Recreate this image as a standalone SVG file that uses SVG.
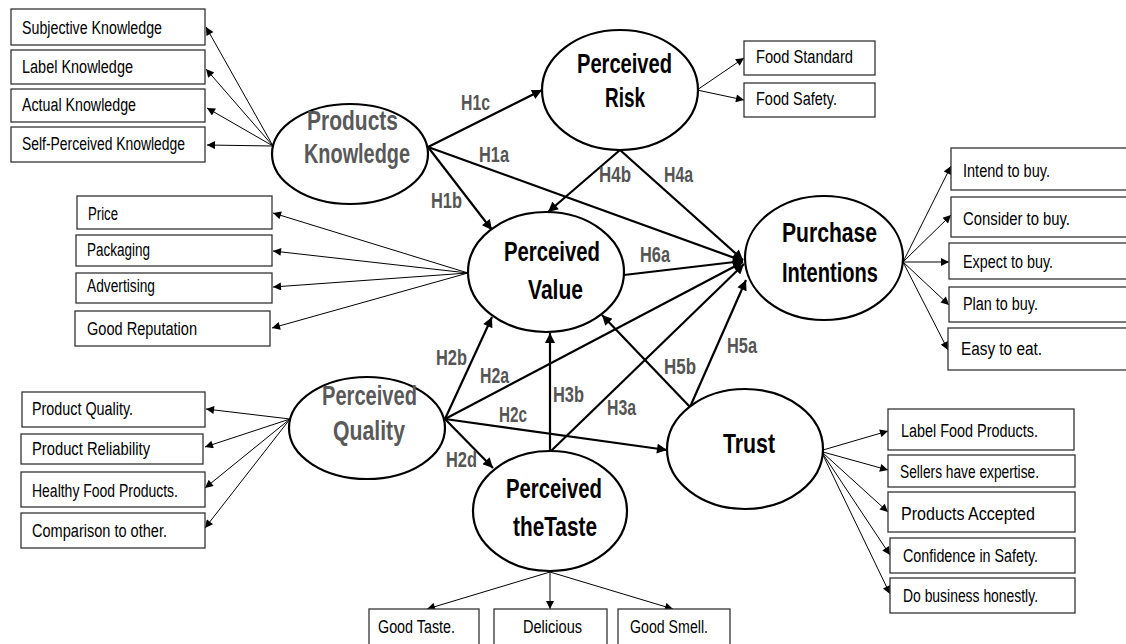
<svg xmlns="http://www.w3.org/2000/svg" width="1126" height="644" viewBox="0 0 1126 644">
<style>
.box{fill:#fff;stroke:#333;stroke-width:1.3}
.bt{font-family:"Liberation Sans",Arial,sans-serif;font-size:18px;fill:#000}
.ell{fill:#fff;stroke:#000;stroke-width:2.2}
.nl{font-family:"Liberation Sans",Arial,sans-serif;font-size:27px;font-weight:bold;fill:#000}
.gr{fill:#595959}
.hl{font-family:"Liberation Sans",Arial,sans-serif;font-size:22px;font-weight:bold;fill:#555}
.thin{stroke:#000;stroke-width:1;fill:none;marker-end:url(#as)}
.thick{stroke:#000;stroke-width:2.2;fill:none;marker-end:url(#al)}
</style>
<defs>
<marker id="as" viewBox="0 0 10 10" refX="10" refY="5" markerWidth="10" markerHeight="8" markerUnits="userSpaceOnUse" orient="auto"><path d="M0,0 L10,5 L0,10 z" fill="#000"/></marker>
<marker id="al" viewBox="0 0 10 10" refX="10" refY="5" markerWidth="12" markerHeight="10" markerUnits="userSpaceOnUse" orient="auto"><path d="M0,0 L10,5 L0,10 z" fill="#000"/></marker>
</defs>
<rect width="1126" height="644" fill="#fff"/>

<g id="connectors">
<!-- Products Knowledge indicators -->
<line class="thin" x1="273" y1="146" x2="206" y2="27"/>
<line class="thin" x1="273" y1="146" x2="206" y2="69"/>
<line class="thin" x1="273" y1="146" x2="207" y2="108"/>
<line class="thin" x1="273" y1="146" x2="207" y2="145"/>
<!-- Perceived Risk indicators -->
<line class="thin" x1="697" y1="90" x2="744" y2="58"/>
<line class="thin" x1="697" y1="90" x2="744" y2="100"/>
<!-- Purchase Intentions indicators -->
<line class="thin" x1="903" y1="262" x2="951" y2="166"/>
<line class="thin" x1="903" y1="262" x2="951" y2="215"/>
<line class="thin" x1="903" y1="262" x2="949" y2="262"/>
<line class="thin" x1="903" y1="262" x2="949" y2="305"/>
<line class="thin" x1="903" y1="262" x2="948" y2="350"/>
<!-- Perceived Value indicators -->
<line class="thin" x1="468" y1="273" x2="273" y2="213"/>
<line class="thin" x1="468" y1="273" x2="273" y2="251"/>
<line class="thin" x1="468" y1="273" x2="273" y2="287"/>
<line class="thin" x1="468" y1="273" x2="272" y2="328"/>
<!-- Perceived Quality indicators -->
<line class="thin" x1="290" y1="419" x2="206" y2="409"/>
<line class="thin" x1="290" y1="419" x2="205" y2="447"/>
<line class="thin" x1="290" y1="419" x2="205" y2="488"/>
<line class="thin" x1="290" y1="419" x2="205" y2="528"/>
<!-- Taste indicators -->
<line class="thin" x1="550" y1="572" x2="427" y2="609"/>
<line class="thin" x1="550" y1="572" x2="550" y2="609"/>
<line class="thin" x1="550" y1="572" x2="673" y2="609"/>
<!-- Trust indicators -->
<line class="thin" x1="823" y1="450" x2="888" y2="431"/>
<line class="thin" x1="823" y1="452" x2="888" y2="470"/>
<line class="thin" x1="823" y1="453" x2="888" y2="512"/>
<line class="thin" x1="823" y1="454" x2="890" y2="555"/>
<line class="thin" x1="823" y1="455" x2="890" y2="594"/>
<!-- structural paths -->
<line class="thick" x1="428" y1="147" x2="542" y2="90"/>
<line class="thick" x1="428" y1="147" x2="743" y2="261"/>
<line class="thick" x1="428" y1="147" x2="492" y2="230"/>
<line class="thick" x1="620" y1="150" x2="548" y2="212"/>
<line class="thick" x1="620" y1="150" x2="743" y2="260"/>
<line class="thick" x1="624" y1="275" x2="743" y2="261"/>
<line class="thick" x1="445" y1="419" x2="492" y2="317"/>
<line class="thick" x1="445" y1="419" x2="743" y2="262"/>
<line class="thick" x1="445" y1="419" x2="667" y2="450"/>
<line class="thick" x1="445" y1="419" x2="493" y2="468"/>
<line class="thick" x1="550" y1="451" x2="550" y2="333"/>
<line class="thick" x1="551" y1="451" x2="744" y2="264"/>
<line class="thick" x1="690" y1="407" x2="602" y2="315"/>
<line class="thick" x1="690" y1="407" x2="746" y2="280"/>
</g>

<g id="hyp-labels">
<text class="hl" x="461" y="110" textLength="29" lengthAdjust="spacingAndGlyphs">H1c</text>
<text class="hl" x="479" y="162" textLength="30" lengthAdjust="spacingAndGlyphs">H1a</text>
<text class="hl" x="431" y="208" textLength="31" lengthAdjust="spacingAndGlyphs">H1b</text>
<text class="hl" x="599" y="182" textLength="32" lengthAdjust="spacingAndGlyphs">H4b</text>
<text class="hl" x="664" y="182" textLength="29" lengthAdjust="spacingAndGlyphs">H4a</text>
<text class="hl" x="640" y="262" textLength="30" lengthAdjust="spacingAndGlyphs">H6a</text>
<text class="hl" x="436" y="365" textLength="31" lengthAdjust="spacingAndGlyphs">H2b</text>
<text class="hl" x="480" y="383" textLength="29" lengthAdjust="spacingAndGlyphs">H2a</text>
<text class="hl" x="499" y="422" textLength="28" lengthAdjust="spacingAndGlyphs">H2c</text>
<text class="hl" x="553" y="402" textLength="31" lengthAdjust="spacingAndGlyphs">H3b</text>
<text class="hl" x="607" y="415" textLength="29" lengthAdjust="spacingAndGlyphs">H3a</text>
<text class="hl" x="664" y="374" textLength="32" lengthAdjust="spacingAndGlyphs">H5b</text>
<text class="hl" x="727" y="353" textLength="30" lengthAdjust="spacingAndGlyphs">H5a</text>
<text class="hl" x="446" y="467" textLength="31" lengthAdjust="spacingAndGlyphs">H2d</text>
</g>

<g id="products-knowledge">
<ellipse class="ell" cx="350" cy="154" rx="78" ry="50"/>
<text class="nl gr" x="307" y="130" textLength="91" lengthAdjust="spacingAndGlyphs">Products</text>
<text class="nl gr" x="304" y="163" textLength="106" lengthAdjust="spacingAndGlyphs">Knowledge</text>
</g>
<g id="perceived-risk">
<ellipse class="ell" cx="620" cy="90" rx="78" ry="60"/>
<text class="nl" x="577" y="73" textLength="95" lengthAdjust="spacingAndGlyphs">Perceived</text>
<text class="nl" x="605" y="107" textLength="40" lengthAdjust="spacingAndGlyphs">Risk</text>
</g>
<g id="perceived-value">
<ellipse class="ell" cx="546" cy="272" rx="78" ry="60"/>
<text class="nl" x="504" y="261" textLength="96" lengthAdjust="spacingAndGlyphs">Perceived</text>
<text class="nl" x="528" y="299" textLength="55" lengthAdjust="spacingAndGlyphs">Value</text>
</g>
<g id="purchase-intentions">
<ellipse class="ell" cx="824" cy="258" rx="79" ry="62"/>
<text class="nl" x="782" y="242" textLength="95" lengthAdjust="spacingAndGlyphs">Purchase</text>
<text class="nl" x="782" y="282" textLength="96" lengthAdjust="spacingAndGlyphs">Intentions</text>
</g>
<g id="perceived-quality">
<ellipse class="ell" cx="367" cy="428" rx="78" ry="51"/>
<text class="nl gr" x="322" y="405" textLength="95" lengthAdjust="spacingAndGlyphs">Perceived</text>
<text class="nl gr" x="333" y="440" textLength="72" lengthAdjust="spacingAndGlyphs">Quality</text>
</g>
<g id="trust">
<ellipse class="ell" cx="745" cy="449" rx="78" ry="60"/>
<text class="nl" x="723" y="453" textLength="52" lengthAdjust="spacingAndGlyphs">Trust</text>
</g>
<g id="perceived-taste">
<ellipse class="ell" cx="550" cy="511" rx="77" ry="60"/>
<text class="nl" x="506" y="498" textLength="96" lengthAdjust="spacingAndGlyphs">Perceived</text>
<text class="nl" x="513" y="536" textLength="84" lengthAdjust="spacingAndGlyphs">theTaste</text>
</g>

<g id="pk-indicators">
<g id="subjective-knowledge"><rect class="box" x="11" y="9" width="194" height="36"/><text class="bt" x="22" y="34" textLength="140" lengthAdjust="spacingAndGlyphs">Subjective Knowledge</text></g>
<g id="label-knowledge"><rect class="box" x="11" y="50" width="194" height="34"/><text class="bt" x="22" y="73" textLength="111" lengthAdjust="spacingAndGlyphs">Label Knowledge</text></g>
<g id="actual-knowledge"><rect class="box" x="11" y="89" width="194" height="33"/><text class="bt" x="22" y="111" textLength="114" lengthAdjust="spacingAndGlyphs">Actual Knowledge</text></g>
<g id="self-perceived-knowledge"><rect class="box" x="11" y="127" width="194" height="35"/><text class="bt" x="22" y="150" textLength="163" lengthAdjust="spacingAndGlyphs">Self-Perceived Knowledge</text></g>
</g>

<g id="pr-indicators">
<g id="food-standard"><rect class="box" x="744" y="41" width="131" height="34"/><text class="bt" x="756" y="63" textLength="97" lengthAdjust="spacingAndGlyphs">Food Standard</text></g>
<g id="food-safety"><rect class="box" x="744" y="83" width="131" height="34"/><text class="bt" x="756" y="105" textLength="81" lengthAdjust="spacingAndGlyphs">Food Safety.</text></g>
</g>

<g id="pi-indicators">
<g id="intend"><rect class="box" x="951" y="148" width="185" height="42"/><text class="bt" x="963" y="177" textLength="87" lengthAdjust="spacingAndGlyphs">Intend to buy.</text></g>
<g id="consider"><rect class="box" x="951" y="197" width="185" height="40"/><text class="bt" x="963" y="225" textLength="107" lengthAdjust="spacingAndGlyphs">Consider  to buy.</text></g>
<g id="expect"><rect class="box" x="949" y="243" width="187" height="36"/><text class="bt" x="963" y="268" textLength="90" lengthAdjust="spacingAndGlyphs">Expect to buy.</text></g>
<g id="plan"><rect class="box" x="949" y="287" width="187" height="35"/><text class="bt" x="963" y="310" textLength="75" lengthAdjust="spacingAndGlyphs">Plan to buy.</text></g>
<g id="easy"><rect class="box" x="948" y="328" width="188" height="42"/><text class="bt" x="961" y="355" textLength="81" lengthAdjust="spacingAndGlyphs">Easy to eat.</text></g>
</g>

<g id="pv-indicators">
<g id="price"><rect class="box" x="77" y="196" width="195" height="33"/><text class="bt" x="88" y="220" textLength="30" lengthAdjust="spacingAndGlyphs">Price</text></g>
<g id="packaging"><rect class="box" x="76" y="235" width="196" height="31"/><text class="bt" x="87" y="256" textLength="63" lengthAdjust="spacingAndGlyphs">Packaging</text></g>
<g id="advertising"><rect class="box" x="76" y="273" width="196" height="30"/><text class="bt" x="87" y="292" textLength="68" lengthAdjust="spacingAndGlyphs">Advertising</text></g>
<g id="good-reputation"><rect class="box" x="75" y="311" width="195" height="35"/><text class="bt" x="87" y="335" textLength="110" lengthAdjust="spacingAndGlyphs">Good Reputation</text></g>
</g>

<g id="pq-indicators">
<g id="product-quality"><rect class="box" x="22" y="392" width="183" height="35"/><text class="bt" x="32" y="415" textLength="101" lengthAdjust="spacingAndGlyphs">Product Quality.</text></g>
<g id="product-reliability"><rect class="box" x="21" y="434" width="182" height="30"/><text class="bt" x="32" y="455" textLength="118" lengthAdjust="spacingAndGlyphs">Product Reliability</text></g>
<g id="healthy"><rect class="box" x="21" y="472" width="184" height="35"/><text class="bt" x="32" y="497" textLength="146" lengthAdjust="spacingAndGlyphs">Healthy Food Products.</text></g>
<g id="comparison"><rect class="box" x="21" y="513" width="184" height="35"/><text class="bt" x="32" y="537" textLength="135" lengthAdjust="spacingAndGlyphs">Comparison to other.</text></g>
</g>

<g id="taste-indicators">
<g id="good-taste"><rect class="box" x="369" y="609" width="110" height="40"/><text class="bt" x="378" y="633" textLength="77" lengthAdjust="spacingAndGlyphs">Good Taste.</text></g>
<g id="delicious"><rect class="box" x="494" y="609" width="113" height="40"/><text class="bt" x="523" y="633" textLength="59" lengthAdjust="spacingAndGlyphs">Delicious</text></g>
<g id="good-smell"><rect class="box" x="618" y="609" width="112" height="40"/><text class="bt" x="630" y="633" textLength="78" lengthAdjust="spacingAndGlyphs">Good Smell.</text></g>
</g>

<g id="trust-indicators">
<g id="label-food"><rect class="box" x="888" y="409" width="186" height="41"/><text class="bt" x="901" y="437" textLength="137" lengthAdjust="spacingAndGlyphs">Label Food Products.</text></g>
<g id="sellers"><rect class="box" x="888" y="455" width="187" height="32"/><text class="bt" x="900" y="478" textLength="139" lengthAdjust="spacingAndGlyphs">Sellers have expertise.</text></g>
<g id="accepted"><rect class="box" x="888" y="492" width="187" height="40"/><text class="bt" x="901" y="520" textLength="134" lengthAdjust="spacingAndGlyphs">Products  Accepted</text></g>
<g id="confidence"><rect class="box" x="890" y="538" width="185" height="35"/><text class="bt" x="903" y="562" textLength="135" lengthAdjust="spacingAndGlyphs">Confidence in Safety.</text></g>
<g id="honestly"><rect class="box" x="890" y="578" width="185" height="35"/><text class="bt" x="903" y="602" textLength="135" lengthAdjust="spacingAndGlyphs">Do business honestly.</text></g>
</g>
</svg>
